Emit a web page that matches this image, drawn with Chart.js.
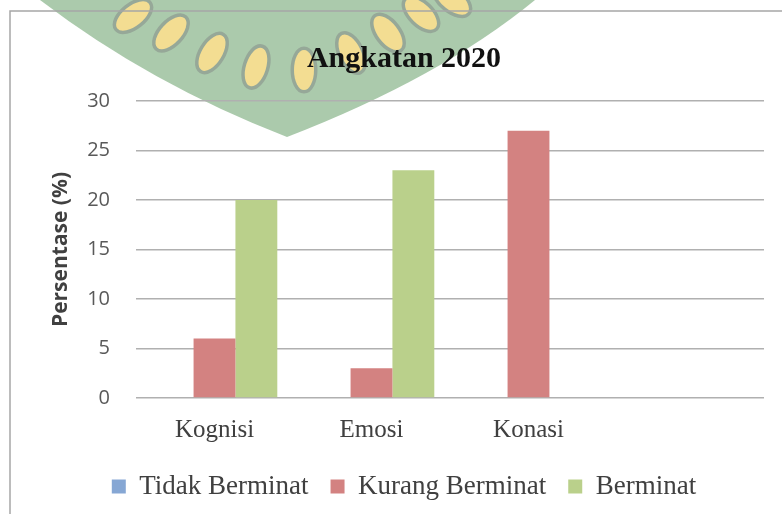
<!DOCTYPE html>
<html>
<head>
<meta charset="utf-8">
<script src="https://cdn.jsdelivr.net/npm/chart.js@4"></script>
<style>
  html, body { margin: 0; padding: 0; background: #fff; overflow: hidden; }
  #wrap { position: absolute; left: 0; top: 0; width: 810px; height: 514px; }
</style>
</head>
<body>
<div id="wrap"><canvas id="myChart" width="810" height="514"></canvas></div>
<script>
// chart data
var categories = ['Kognisi', 'Emosi', 'Konasi', ''];
var tidakBerminat = [0, 0, 0, null];
var kurangBerminat = [6, 3, 27, null];
var berminat = [20, 23, 0, null];
var yTicks = [0, 5, 10, 15, 20, 25, 30];

var serif = "'Liberation Serif', 'Times New Roman', serif";
var sans = "'Open Sans', 'Noto Sans', sans-serif";

// faded logo watermark behind the chart + the chart frame
var leaves = [
    [133, 16, 0.9], [171, 33, 0.75], [212, 53, 0.55], [256, 67, 0.3],
    [304, 70, 0.0], [351, 53, -0.45], [388, 33, -0.65], [421, 14, -0.8], [452, 0, -0.9]
];

var background = {
    id: 'background',
    beforeDraw: function (chart) {
        var ctx = chart.ctx;
        ctx.save();
        ctx.fillStyle = '#fff';
        ctx.fillRect(0, 0, chart.width, chart.height);

        ctx.fillStyle = '#abcaac';
        ctx.beginPath();
        ctx.moveTo(40, 0);
        ctx.quadraticCurveTo(150, 84, 287, 137);
        ctx.quadraticCurveTo(440, 78, 535, 0);
        ctx.closePath();
        ctx.fill();

        leaves.forEach(function (l) {
            ctx.save();
            ctx.translate(l[0], l[1]);
            ctx.rotate(l[2]);
            ctx.beginPath();
            ctx.ellipse(0, 0, 10, 20, 0, 0, Math.PI * 2);
            ctx.lineWidth = 7;
            ctx.strokeStyle = '#96a898';
            ctx.stroke();
            ctx.fillStyle = '#f3dd92';
            ctx.fill();
            ctx.restore();
        });

        ctx.strokeStyle = '#a6a6a6';
        ctx.lineWidth = 1.5;
        ctx.beginPath();
        ctx.moveTo(10, chart.height + 10);
        ctx.lineTo(10, 11);
        ctx.lineTo(chart.width + 10, 11);
        ctx.stroke();
        ctx.restore();
    }
};

new Chart(document.getElementById('myChart'), {
    type: 'bar',
    data: {
        labels: categories,
        datasets: [
            { label: 'Tidak Berminat', data: tidakBerminat, backgroundColor: '#86a7d4' },
            { label: 'Kurang Berminat', data: kurangBerminat, backgroundColor: '#d38281' },
            { label: 'Berminat', data: berminat, backgroundColor: '#bad08b' }
        ]
    },
    options: {
        responsive: false,
        animation: false,
        devicePixelRatio: 1,
        layout: { padding: { left: 44, right: 46, top: 0, bottom: 4 } },
        datasets: { bar: { categoryPercentage: 0.8, barPercentage: 1.0 } },
        plugins: {
            title: {
                display: true,
                text: 'Angkatan 2020',
                color: '#111',
                font: { family: serif, size: 30, weight: 'bold' },
                padding: { top: 41, bottom: 24 }
            },
            legend: {
                position: 'bottom',
                labels: {
                    boxWidth: 14,
                    boxHeight: 14,
                    padding: 22,
                    color: '#404040',
                    font: { family: serif, size: 27 }
                }
            },
            tooltip: { enabled: false }
        },
        scales: {
            x: {
                grid: { display: false },
                border: { display: false },
                ticks: { color: '#404040', padding: 9, font: { family: serif, size: 25 } },
                afterFit: function (s) { s.height = 53; }
            },
            y: {
                min: 0,
                max: 30,
                afterBuildTicks: function (s) { s.ticks = yTicks.map(function (v) { return { value: v }; }); },
                grid: { color: '#b0b0b0', lineWidth: 1.5, drawTicks: false },
                border: { display: false },
                ticks: { color: '#595959', padding: 26, font: { family: sans, size: 20 } },
                title: {
                    display: true,
                    text: 'Persentase (%)',
                    color: '#404040',
                    padding: { top: 4, bottom: 4 },
                    font: { family: sans, size: 21, weight: 'bold' }
                },
                afterFit: function (s) { s.width = 92; }
            }
        }
    },
    plugins: [background]
});
</script>
</body>
</html>
